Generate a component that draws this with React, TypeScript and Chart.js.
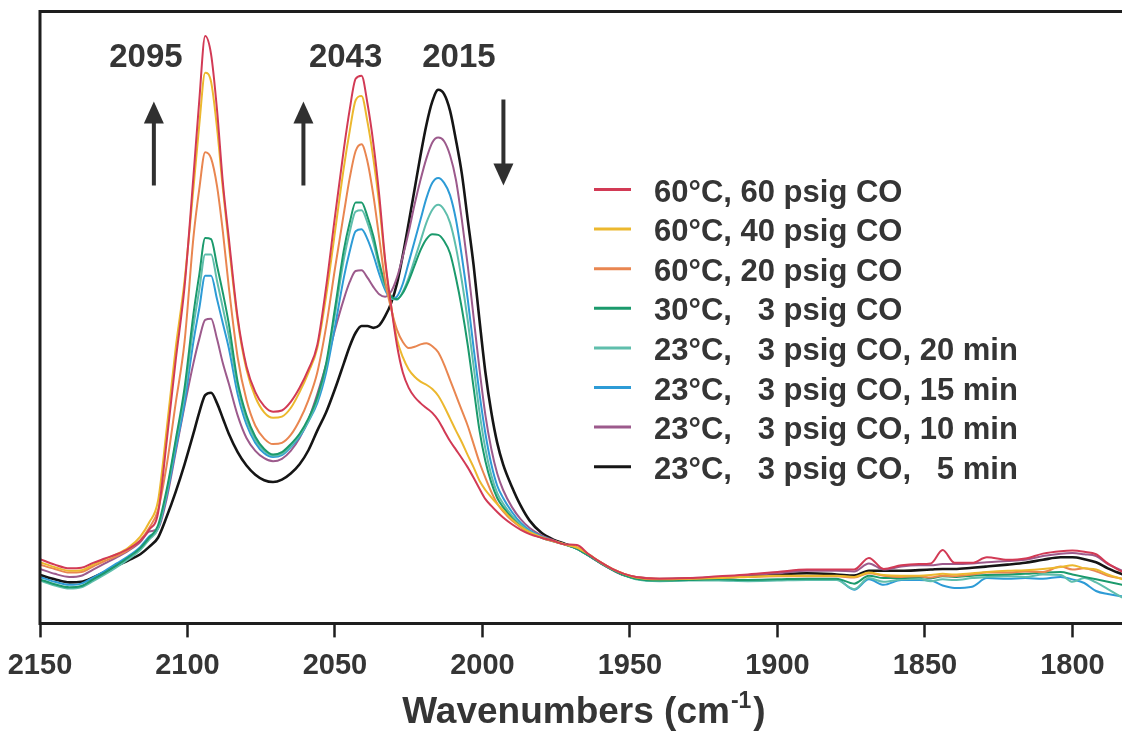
import React, { useEffect, useRef } from 'react';
import { Chart, registerables } from 'chart.js';

Chart.register(...registerables);

// Wavenumber grid (cm-1)
const wavenumbers = [
  2150, 2145, 2140, 2136, 2132, 2128, 2124, 2120, 2116, 2113,
  2110, 2107, 2104, 2101, 2098, 2096, 2094, 2092, 2090, 2088,
  2086, 2083, 2080, 2077, 2074, 2071, 2068, 2065, 2062, 2059,
  2056, 2053, 2050, 2047, 2045, 2043, 2041, 2039, 2037, 2035,
  2033, 2031, 2029, 2027, 2025, 2023, 2021, 2019, 2017, 2015,
  2013, 2011, 2009, 2007, 2005, 2003, 2001, 1999, 1997, 1995,
  1993, 1990, 1987, 1984, 1980, 1976, 1972, 1968, 1964, 1960, 1956, 1952,
  1948, 1940, 1930, 1920, 1910, 1900, 1890, 1880, 1874, 1869, 1864, 1858, 1852, 1848,
  1844, 1840, 1834, 1829, 1822, 1816, 1810, 1804, 1800, 1796, 1792, 1788, 1783,
];

const t60p60 = [
  10.5, 9.6, 9.0, 9.1, 9.9, 10.6, 11.3, 12.2, 13.5, 15.3,
  18, 30, 43, 55, 73, 85.5, 96, 93, 84, 72,
  63, 50, 42, 37.8, 35.5, 34.6, 34.8, 36.2, 38.5, 41.5,
  45.5, 55, 66.5, 77.5, 84, 89, 89.5, 85, 78.5, 70,
  59.5, 52, 45.5, 41, 38.5, 37, 36, 35.2, 34.4, 33.2,
  31.5, 29.8, 28.4, 27, 25.5, 23.8, 22, 20.3, 19.2, 18.2,
  17.3, 16.2, 15.3, 14.6, 14.0, 13.5, 12.9, 12.8, 11.3, 10.0, 8.9, 8.1,
  7.6, 7.3, 7.4, 7.7, 8.0, 8.4, 8.8, 8.8, 8.8, 10.7, 8.9, 9.5, 9.7, 9.8,
  12.0, 9.9, 9.9, 10.8, 10.4, 10.6, 11.4, 11.8, 11.9, 11.7, 11.3, 9.8, 8.4,
];

const t60p40 = [
  10.0, 9.2, 8.6, 8.7, 9.6, 10.5, 11.3, 12.4, 14.2, 16.5,
  20, 32, 45, 56, 71, 81.5, 90, 88.5, 81, 71,
  62, 49.5, 41.5, 37, 34.5, 33.6, 33.8, 35.2, 37.8, 41.0,
  45, 53.5, 64, 74.5, 80.5, 85.5, 86.2, 82, 76, 68.5,
  59, 52, 46.5, 43.5, 41.5, 40.3, 39.5, 39.0, 38.3, 37.2,
  35.5, 33.5, 31.5, 29.6, 27.5, 25.5, 23.3, 21.8, 20.6, 19.5,
  18.5, 17.0, 15.8, 14.9, 14.1, 13.5, 12.9, 12.4, 11.3, 10.0, 8.9, 8.1,
  7.5, 7.2, 7.3, 7.4, 7.6, 7.8, 7.8, 7.8, 7.6, 8.3, 7.9, 7.8, 7.8, 7.9,
  8.1, 8.0, 8.2, 8.4, 8.6, 8.7, 8.9, 9.2, 9.5, 9.0, 8.8, 8.0, 7.2,
];

const t60p20 = [
  9.6, 8.9, 8.3, 8.4, 9.3, 10.2, 11.0, 12.0, 13.6, 15.6,
  18.5, 26, 36, 46, 63, 71, 77, 76, 71.5, 64,
  55, 43.5, 36.5, 32.3, 30.2, 29.3, 29.5, 30.8, 33.2, 36.5,
  41, 48.5, 58, 67, 72.8, 77.2, 78.3, 75.5, 70, 63,
  56, 51.5, 48, 46, 45, 45.2, 45.6, 45.8, 45.3, 44.3,
  42.3, 39.8, 37.3, 34.8, 32.3, 29.3, 26.3, 23.8, 21.5, 19.6,
  18.3, 16.8, 15.7, 14.8, 14.0, 13.4, 12.9, 12.4, 11.3, 10.0, 8.9, 8.1,
  7.6, 7.3, 7.3, 7.5, 7.6, 7.7, 7.7, 7.7, 7.5, 8.2, 7.8, 7.6, 7.7, 7.5,
  7.8, 7.7, 8.0, 8.3, 8.3, 8.5, 8.4, 9.3, 8.8, 9.0, 8.5, 7.8, 7.3,
];

const t30p3 = [
  7.2, 6.4, 5.9, 6.1, 7.2, 8.3, 9.5, 10.8, 12.3, 14.0,
  16, 22, 30, 38.5, 50.5, 57, 63, 62.8, 58.5, 54,
  49, 39.5, 34, 30.5, 28.5, 27.6, 28.0, 29.3, 31.0, 33.5,
  37, 42.5, 51.5, 61, 65.5, 68.8, 68.8, 66.5, 63.3, 59,
  55.5, 53.5, 53.0, 54.0, 56.0, 58.5, 61.0, 62.8, 63.6, 63.5,
  62.5, 60.5, 56.5, 51.5, 45.5, 38.5, 31.5, 26.5, 23.0, 20.5,
  19.0, 17.2, 15.8, 14.8, 14.0, 13.4, 12.9, 12.2, 11.1, 9.9, 8.8, 7.9,
  7.3, 7.0, 7.1, 7.2, 7.1, 7.2, 7.3, 7.3, 6.5, 7.8, 7.4, 7.4, 7.6, 7.4,
  7.7, 7.6, 7.8, 7.9, 8.0, 8.1, 8.3, 8.4, 8.0, 7.6, 7.2, 6.8, 6.3,
];

const t23m20 = [
  7.0, 6.2, 5.7, 5.9, 6.9, 8.0, 9.2, 10.5, 12.0, 13.7,
  15.5, 21.5, 29.5, 37.5, 48.5, 54.5, 60.3, 60.3, 56, 51.5,
  47, 38.8, 33.3, 30.0, 28.2, 27.4, 27.7, 29.0, 30.7, 33.1,
  36.5, 42, 50.5, 59.5, 64, 67.3, 67.5, 65.5, 62.3, 58.3,
  55, 53.2, 52.9, 54.2, 56.5, 59.5, 62.5, 65.5, 67.6, 68.4,
  67.6, 65.5, 61.5, 56, 49.5, 42, 34.5, 28.5, 24.2, 21.3,
  19.6, 17.6, 16.1, 15.0, 14.1, 13.4, 12.9, 12.2, 11.1, 9.9, 8.8, 7.9,
  7.2, 6.9, 7.0, 7.0, 6.9, 7.0, 7.1, 7.1, 5.6, 7.4, 6.8, 7.2, 7.3, 6.9,
  7.2, 7.1, 7.4, 7.6, 7.7, 7.6, 8.0, 7.9, 6.8, 7.4, 6.7, 5.6, 4.2,
];

const t23m15 = [
  7.6, 6.8, 6.3, 6.5, 7.5, 8.6, 9.8, 11.0, 12.5, 14.2,
  15.5, 21, 28.5, 36, 46, 51.5, 56.8, 56.8, 53, 49,
  45, 37.5, 32.5, 29.5, 27.8, 27.2, 27.5, 28.8, 30.5, 33,
  36, 41, 48.5, 56.5, 60.8, 64.1, 64.4, 62.8, 60.2, 57.1,
  54.5, 53.0, 53.4, 55.5, 59, 62.5, 66, 69.5, 72, 72.8,
  72, 70, 66, 60, 53, 45, 37.5, 31, 26, 22.5,
  20.5, 18.2, 16.4, 15.2, 14.2, 13.5, 12.9, 12.2, 11.1, 9.9, 8.8, 7.9,
  7.3, 7.0, 7.1, 7.1, 7.0, 7.1, 7.1, 7.2, 5.5, 7.2, 6.3, 7.1, 7.1, 7.0,
  6.2, 5.8, 6.0, 7.4, 7.3, 7.4, 7.3, 7.6, 7.2, 6.6, 5.3, 4.8, 4.4,
];

const t23m10 = [
  8.9, 8.1, 7.6, 7.8, 8.8, 9.8, 10.8, 11.9, 13.3, 15.0,
  15.5, 20.5, 28, 35.5, 42.5, 46.5, 49.6, 49.8, 46.5, 42.5,
  39.2, 34.0, 30.3, 28.2, 27.0, 26.5, 26.9, 28.2, 30.3, 33.3,
  37.5, 42.3, 48, 53, 55.8, 57.6, 57.7, 56.5, 55, 53.8,
  53.4, 54.2, 56.5, 60, 64, 68.5, 72.5, 76, 78.6, 79.4,
  78.8, 76.5, 72.5, 66, 58.5, 50, 41.5, 34, 28.5, 24.5,
  21.8, 19.0, 17.0, 15.6, 14.4, 13.6, 12.9, 12.2, 11.1, 9.9, 8.8, 7.9,
  7.6, 7.3, 7.4, 7.6, 7.9, 8.2, 8.6, 8.6, 8.5, 9.8, 8.8, 9.3, 9.5, 9.5,
  9.7, 9.7, 9.8, 10.0, 10.2, 10.4, 11.0, 11.4, 11.5, 11.3, 11.0, 9.7, 8.6,
];

const t23m5 = [
  7.9, 7.2, 6.7, 6.8, 7.5, 8.4, 9.4, 10.3, 11.3, 12.5,
  14, 17.5, 21.5, 26, 31, 34.5, 37.3, 37.7, 36, 33.5,
  31, 28, 25.8, 24.3, 23.4, 23.1, 23.5, 24.5, 26.0, 28.3,
  31.5, 34.5, 38.3, 42.5, 45.3, 47.5, 48.6, 48.6, 48.3, 48.7,
  50.2, 52.3, 55.5, 60.2, 65.5, 71, 76.5, 81.5, 85.3, 87.2,
  86.5, 83.8, 79, 73.5, 66, 58.5, 49.5, 41, 34.5, 29.5,
  26.0, 22.3, 19.2, 16.8, 14.8, 13.7, 13.0, 12.3, 11.1, 9.9, 8.8, 7.9,
  7.4, 7.2, 7.3, 7.5, 7.7, 8.0, 8.2, 8.0, 7.8, 8.6, 8.6, 8.6, 8.7, 8.8,
  8.9, 8.9, 9.1, 9.3, 9.6, 9.9, 10.4, 10.8, 10.8, 10.5, 10.0, 9.0, 8.0,
];

const seriesLabels = [
  '60°C, 60 psig CO',
  '60°C, 40 psig CO',
  '60°C, 20 psig CO',
  '30°C,   3 psig CO',
  '23°C,   3 psig CO, 20 min',
  '23°C,   3 psig CO, 15 min',
  '23°C,   3 psig CO, 10 min',
  '23°C,   3 psig CO,   5 min',
];
const seriesValues = [t60p60, t60p40, t60p20, t30p3, t23m20, t23m15, t23m10, t23m5];
const seriesColors = ['#d23a55', '#ecb82e', '#e98650', '#1b9a6c', '#5fbeac', '#2d9bd6', '#9c5a8c', '#151515'];

const xTickValues = [2150, 2100, 2050, 2000, 1950, 1900, 1850, 1800];
const peakLabels = ['2095', '2043', '2015'];
const peakLabelWavenumbers = [2114.1, 2046.4, 2008.0];
const arrowWavenumbers = [2111.4, 2060.7, 1992.9];
const arrowDirections = ['up', 'up', 'down'];
const axisTitle = 'Wavenumbers (cm';
const axisTitleSup = '-1';

const FONT = '"Liberation Sans", Arial, Helvetica, sans-serif';
const TEXT = '#353535';

const overlayPlugin = {
  id: 'overlay',
  afterDraw(chart: any) {
    const { ctx, chartArea, scales } = chart;
    const xs = scales.x;
    ctx.save();
    // frame
    ctx.strokeStyle = '#1e1e1e';
    ctx.lineWidth = 3;
    ctx.beginPath();
    ctx.moveTo(chart.width, chartArea.top);
    ctx.lineTo(chartArea.left, chartArea.top);
    ctx.lineTo(chartArea.left, chartArea.bottom);
    ctx.lineTo(chart.width, chartArea.bottom);
    ctx.stroke();

    // peak labels
    ctx.fillStyle = TEXT;
    ctx.font = `bold 33px ${FONT}`;
    ctx.textAlign = 'center';
    ctx.textBaseline = 'alphabetic';
    peakLabels.forEach((t, i) => {
      ctx.fillText(t, xs.getPixelForValue(peakLabelWavenumbers[i]), chartArea.top + 55.5);
    });

    // arrows
    ctx.strokeStyle = '#303030';
    ctx.fillStyle = '#303030';
    arrowWavenumbers.forEach((w, i) => {
      const x = xs.getPixelForValue(w);
      const top = chartArea.top + 90;
      const bot = chartArea.top + 174;
      ctx.lineWidth = 4;
      ctx.beginPath();
      if (arrowDirections[i] === 'up') {
        ctx.moveTo(x, bot);
        ctx.lineTo(x, top + 12);
        ctx.stroke();
        ctx.beginPath();
        ctx.moveTo(x, top);
        ctx.lineTo(x - 10, top + 22);
        ctx.lineTo(x + 10, top + 22);
        ctx.closePath();
        ctx.fill();
      } else {
        ctx.moveTo(x, top - 2);
        ctx.lineTo(x, bot - 12);
        ctx.stroke();
        ctx.beginPath();
        ctx.moveTo(x, bot);
        ctx.lineTo(x - 10, bot - 22);
        ctx.lineTo(x + 10, bot - 22);
        ctx.closePath();
        ctx.fill();
      }
    });

    // legend
    ctx.textAlign = 'left';
    ctx.font = `bold 31px ${FONT}`;
    chart.data.datasets.forEach((ds: any, i: number) => {
      const yMid = 190.5 + i * 39.6;
      ctx.strokeStyle = ds.borderColor;
      ctx.lineWidth = 3;
      ctx.beginPath();
      ctx.moveTo(594, yMid - 1);
      ctx.lineTo(631, yMid - 1);
      ctx.stroke();
      ctx.fillStyle = TEXT;
      ctx.fillText(ds.label, 654, yMid + 11);
    });

    // axis title with superscript
    ctx.fillStyle = TEXT;
    ctx.font = `bold 37px ${FONT}`;
    const wMain = ctx.measureText(axisTitle).width;
    const wClose = ctx.measureText(')').width;
    ctx.font = `bold 23px ${FONT}`;
    const wSup = ctx.measureText(axisTitleSup).width;
    const total = wMain + wSup + wClose + 3;
    const cx = 584;
    const x0 = cx - total / 2;
    const base = chartArea.bottom + 100;
    ctx.font = `bold 37px ${FONT}`;
    ctx.fillText(axisTitle, x0, base);
    ctx.font = `bold 23px ${FONT}`;
    ctx.fillText(axisTitleSup, x0 + wMain + 1, base - 15);
    ctx.font = `bold 37px ${FONT}`;
    ctx.fillText(')', x0 + wMain + wSup + 3, base);
    ctx.restore();
  },
};

export default function App() {
  const canvasRef = useRef<HTMLCanvasElement | null>(null);

  useEffect(() => {
    if (!canvasRef.current) return;
    const datasets = seriesLabels.map((label, i) => ({
      label,
      data: wavenumbers.map((w, j) => ({ x: w, y: seriesValues[i][j] })),
      borderColor: seriesColors[i],
      backgroundColor: seriesColors[i],
      borderWidth: i === 7 ? 2.6 : 2,
      pointRadius: 0,
      fill: false,
      cubicInterpolationMode: 'monotone' as const,
    }));
    const chart = new Chart(canvasRef.current, {
      type: 'line',
      data: { datasets },
      options: {
        animation: false,
        responsive: false,
        devicePixelRatio: 1,
        layout: { padding: { left: 40, right: 0, top: 11.5, bottom: 36.6 } },
        plugins: {
          legend: { display: false },
          tooltip: { enabled: false },
        },
        scales: {
          x: {
            type: 'linear',
            reverse: true,
            min: 1783.2,
            max: 2150,
            border: { display: false },
            grid: {
              display: true,
              drawOnChartArea: false,
              drawTicks: true,
              tickLength: 14,
              tickWidth: 2.5,
              tickColor: '#1e1e1e',
            },
            afterBuildTicks: (scale: any) => {
              scale.ticks = xTickValues.map((v) => ({ value: v }));
            },
            afterFit: (scale: any) => {
              scale.paddingLeft = 0;
              scale.paddingRight = 0;
            },
            ticks: {
              stepSize: 50,
              includeBounds: false,
              autoSkip: false,
              maxRotation: 0,
              padding: 11.6,
              color: TEXT,
              font: { size: 29, weight: 'bold', family: FONT },
              callback: (v: any) => String(v),
            },
          },
          y: { display: false, min: 0, max: 100 },
        },
      },
      plugins: [overlayPlugin],
    });
    return () => chart.destroy();
  }, []);

  return (
    <div style={{ position: 'absolute', left: 0, top: 0, width: 1122, height: 732, background: '#fff' }}>
      <canvas ref={canvasRef} width={1122} height={732} style={{ display: 'block' }} />
    </div>
  );
}
